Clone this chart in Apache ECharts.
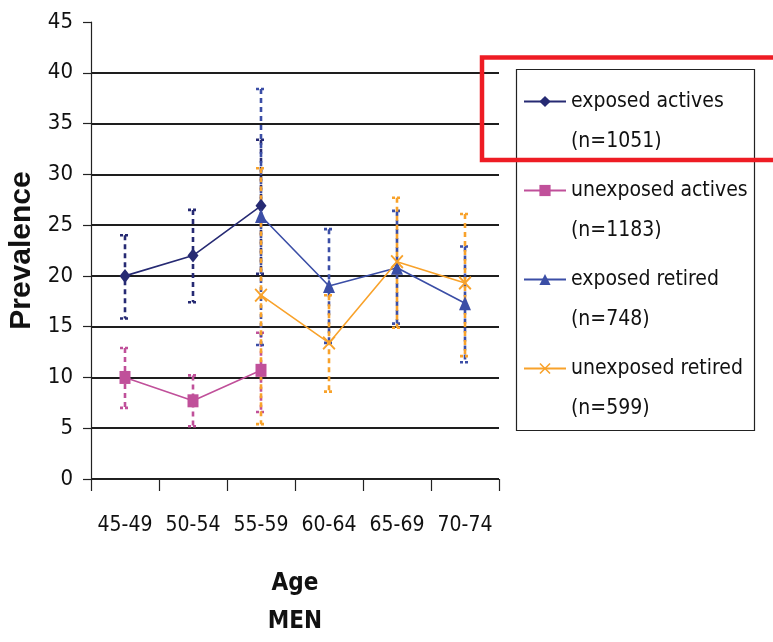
<!DOCTYPE html>
<html>
<head>
<meta charset="utf-8">
<script src="https://cdn.jsdelivr.net/npm/echarts@6/dist/echarts.min.js"></script>
<style>
  html, body { margin: 0; padding: 0; background: #fff; }
  #chart { width: 773px; height: 642px; }
</style>
</head>
<body>
<div id="chart"></div>
<script>
var NARROW = "'Liberation Sans Narrow', 'DejaVu Sans Condensed', 'Liberation Sans', sans-serif";

var categories = ['45-49', '50-54', '55-59', '60-64', '65-69', '70-74'];
var seriesNames = ['exposed actives', 'unexposed actives', 'exposed retired', 'unexposed retired'];
var sampleSizes = [1051, 1183, 748, 599];
var yTicks = [0, 5, 10, 15, 20, 25, 30, 35, 40, 45];

// prevalence per age group (null = group not in that series)
var exposedActives = [20.0, 22.0, 26.9, null, null, null];
var exposedActivesLow = [15.8, 17.4, 20.2, null, null, null];
var exposedActivesHigh = [24.0, 26.5, 33.4, null, null, null];

var unexposedActives = [10.0, 7.7, 10.7, null, null, null];
var unexposedActivesLow = [7.0, 5.2, 6.6, null, null, null];
var unexposedActivesHigh = [12.9, 10.2, 14.4, null, null, null];

var exposedRetired = [null, null, 25.9, 19.0, 20.8, 17.3];
var exposedRetiredLow = [null, null, 13.2, 13.4, 15.3, 11.5];
var exposedRetiredHigh = [null, null, 38.4, 24.6, 26.4, 22.9];

var unexposedRetired = [null, null, 18.1, 13.4, 21.4, 19.3];
var unexposedRetiredLow = [null, null, 5.4, 8.6, 14.9, 12.1];
var unexposedRetiredHigh = [null, null, 30.6, 18.1, 27.7, 26.1];

var colors = ['#262a73', '#c0509a', '#3b4ea6', '#f8a22b'];

var crossSymbol = 'path://M1,0 L5,4 L9,0 L10,1 L6,5 L10,9 L9,10 L5,6 L1,10 L0,9 L4,5 L0,1 Z';

function legendName(i) {
    return seriesNames[i] + '\n(n=' + sampleSizes[i] + ')';
}

function errorData(low, high) {
    var out = [];
    for (var i = 0; i < categories.length; i++) {
        if (low[i] != null) out.push([i, low[i], high[i]]);
    }
    return out;
}

function errorBars(name, low, high, color) {
    return {
        name: name,
        type: 'custom',
        data: errorData(low, high),
        z: 1,
        renderItem: function (params, api) {
            var top = api.coord([api.value(0), api.value(2)]);
            var bot = api.coord([api.value(0), api.value(1)]);
            var w = 5;
            var st = { stroke: color, lineWidth: 2.6, lineDash: [5, 4] };
            var cap = { stroke: color, lineWidth: 2.6, lineDash: [3, 2] };
            return {
                type: 'group',
                children: [
                    { type: 'line', shape: { x1: top[0], y1: top[1], x2: bot[0], y2: bot[1] }, style: st },
                    { type: 'line', shape: { x1: top[0] - w, y1: top[1], x2: top[0] + w, y2: top[1] }, style: cap },
                    { type: 'line', shape: { x1: bot[0] - w, y1: bot[1], x2: bot[0] + w, y2: bot[1] }, style: cap }
                ]
            };
        }
    };
}

function lineSeries(i, data, symbol, size) {
    return {
        name: legendName(i),
        type: 'line',
        data: data,
        symbol: symbol,
        symbolSize: size,
        connectNulls: false,
        z: 3,
        lineStyle: { color: colors[i], width: 1.6 },
        itemStyle: { color: colors[i] }
    };
}

var gridColors = yTicks.map(function (v) { return v === 45 ? 'rgba(0,0,0,0)' : '#1e1e1e'; });

var myChart = echarts.init(document.getElementById('chart'));

myChart.setOption({
    backgroundColor: '#fff',
    animation: false,
    grid: { left: 91, right: 274, top: 22, bottom: 163, outerBoundsMode: 'none', containLabel: false },
    xAxis: {
        type: 'category',
        data: categories,
        boundaryGap: true,
        axisLine: { lineStyle: { color: '#222', width: 1.2 } },
        axisTick: { show: true, length: 12, lineStyle: { color: '#222', width: 1.2 } },
        axisLabel: { color: '#111', fontFamily: NARROW, fontSize: 21, margin: 36, interval: 0 },
        name: 'Age\nMEN',
        nameLocation: 'middle',
        nameGap: 86,
        nameTextStyle: { color: '#111', fontFamily: NARROW, fontWeight: 'bold', fontSize: 24, lineHeight: 38 }
    },
    yAxis: {
        type: 'value',
        min: 0,
        max: 45,
        interval: 5,
        axisLine: { show: true, lineStyle: { color: '#222', width: 1.2 } },
        axisTick: { show: true, length: 8, lineStyle: { color: '#222', width: 1.2 } },
        axisLabel: { color: '#111', fontFamily: NARROW, fontSize: 22, margin: 18 },
        splitLine: { show: true, lineStyle: { color: gridColors, width: 1.8 } },
        name: 'Prevalence',
        nameLocation: 'middle',
        nameRotate: 90,
        nameGap: 51,
        nameTextStyle: { color: '#111', fontFamily: "'Liberation Sans', Arial, sans-serif", fontWeight: 'bold', fontSize: 30 }
    },
    legend: {
        orient: 'vertical',
        left: 523,
        top: 51,
        padding: 0,
        itemWidth: 42,
        itemHeight: 14,
        itemGap: -12,
        selectedMode: false,
        data: [0, 1, 2, 3].map(legendName),
        formatter: function (name) {
            var parts = name.split('\n');
            return '{s| }\n{t|' + parts[0] + '}\n{t|' + parts[1] + '}';
        },
        textStyle: {
            color: '#111',
            fontFamily: NARROW,
            fontSize: 21,
            rich: {
                s: { lineHeight: 40, fontSize: 21, fontFamily: NARROW },
                t: { lineHeight: 40, fontSize: 21, fontFamily: NARROW, color: '#111' }
            }
        }
    },
    graphic: [
        {
            type: 'rect',
            shape: { x: 516.5, y: 69.5, width: 238, height: 361 },
            style: { fill: 'none', stroke: '#222', lineWidth: 1.2 },
            z: 100
        },
        {
            type: 'rect',
            shape: { x: 482, y: 57.5, width: 320, height: 102.5 },
            style: { fill: 'none', stroke: '#ee1c24', lineWidth: 4.5 },
            z: 101
        }
    ],
    series: [
        errorBars('err-ea', exposedActivesLow, exposedActivesHigh, colors[0]),
        errorBars('err-ua', unexposedActivesLow, unexposedActivesHigh, colors[1]),
        errorBars('err-er', exposedRetiredLow, exposedRetiredHigh, colors[2]),
        errorBars('err-ur', unexposedRetiredLow, unexposedRetiredHigh, colors[3]),
        lineSeries(0, exposedActives, 'diamond', [11, 14]),
        lineSeries(1, unexposedActives, 'rect', [11, 13]),
        lineSeries(2, exposedRetired, 'triangle', [12, 14]),
        lineSeries(3, unexposedRetired, crossSymbol, [13, 14])
    ]
});
</script>
</body>
</html>
